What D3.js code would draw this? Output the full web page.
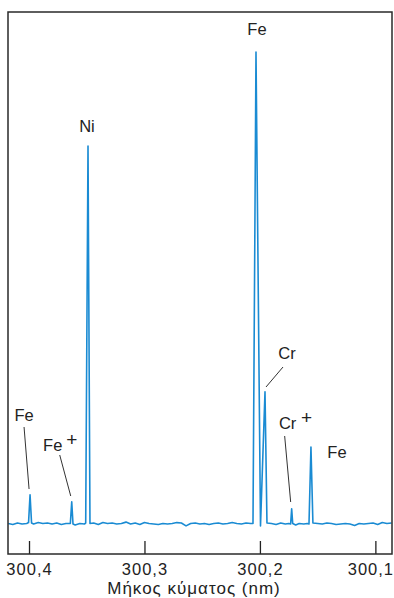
<!DOCTYPE html>
<html>
<head>
<meta charset="utf-8">
<script src="https://cdn.jsdelivr.net/npm/d3@7"></script>
<style>
  body { margin: 0; background: #fff; }
  svg { display: block; font-family: "Liberation Sans", Arial, sans-serif; }
  .tick text { font-size: 16.5px; fill: #222; letter-spacing: 1px; }
  .tick line { stroke: #222; stroke-width: 1.3; }
</style>
</head>
<body>
<svg id="chart" width="394" height="598"></svg>
<script>
// wavelength (nm), relative intensity (largest Fe line = 100)
const spectrum = [
  [300.418, 0.1], [300.414, -0.1], [300.410, 0.2], [300.406, 0.0], [300.402, 0.1],
  [300.4004, 0.3], [300.3991, 6.2], [300.3978, 0.2],
  [300.396, 0.0], [300.392, 0.3], [300.388, 0.1], [300.384, 0.2], [300.380, 0.0],
  [300.376, 0.2], [300.372, -0.1], [300.368, 0.1],
  [300.3642, 0.1], [300.3630, 4.7], [300.3619, 0.0],
  [300.360, -0.2], [300.356, 0.1], [300.352, 0.0],
  [300.3509, 0.2], [300.3489, 80.1], [300.3472, 0.1],
  [300.344, 0.2], [300.340, -0.1], [300.336, 0.3], [300.332, 0.1], [300.328, 0.2],
  [300.324, 0.0], [300.320, 0.1], [300.316, 0.4], [300.312, 0.0], [300.308, 0.2],
  [300.304, -0.1], [300.300, 0.3], [300.296, 0.1], [300.292, 0.0], [300.288, -0.1],
  [300.284, 0.1], [300.280, 0.0], [300.276, 0.1], [300.272, 0.3], [300.268, 0.2],
  [300.264, -0.4], [300.260, 0.1], [300.256, 0.2], [300.252, 0.0], [300.248, 0.1],
  [300.244, -0.1], [300.240, 0.1], [300.236, 0.2], [300.232, 0.0], [300.228, 0.1],
  [300.224, 0.3], [300.220, 0.1], [300.216, 0.0], [300.212, 0.2], [300.208, 0.1],
  [300.2060, 0.1], [300.2034, 100], [300.1995, -0.4], [300.1956, 28], [300.1939, 0.2],
  [300.190, 0.1], [300.186, -0.1], [300.182, 0.2], [300.178, 0.0], [300.175, 0.1],
  [300.1734, 0.0], [300.1725, 3.2], [300.1716, 0.1],
  [300.169, -0.2], [300.166, 0.1], [300.162, 0.0], [300.159, 0.1],
  [300.1575, 0.0], [300.1558, 16.3], [300.1541, 0.2],
  [300.150, 0.1], [300.146, 0.0], [300.142, 0.2], [300.138, 0.1], [300.134, -0.1],
  [300.130, 0.0], [300.126, 0.1], [300.122, 0.0], [300.118, -0.3], [300.114, 0.1],
  [300.110, 0.0], [300.106, 0.1], [300.102, 0.2], [300.098, -0.1], [300.094, 0.3],
  [300.090, 0.1], [300.086, 0.2]
];

const xTicks = [300.4, 300.3, 300.2, 300.1];
const xTitle = 'Μήκος κύματος (nm)';

// line labels: wavelength of the line, label text, superscript, and leader line
const lineLabels = [
  { wl: 300.2034, name: 'Fe', sup: '', dx: 1, y: 35, leader: null },
  { wl: 300.3489, name: 'Ni', sup: '', dx: -1, y: 132, leader: null },
  { wl: 300.3991, name: 'Fe', sup: '', dx: -6, y: 421, leader: [[-6, 427], [-1, 489]] },
  { wl: 300.3630, name: 'Fe', sup: '+', dx: -19, y: 451, leader: [[-12, 455], [-1, 496]] },
  { wl: 300.1956, name: 'Cr', sup: '', dx: 22, y: 359, leader: [[18, 367], [1, 387]] },
  { wl: 300.1725, name: 'Cr', sup: '+', dx: -4, y: 429, leader: [[-7, 436], [-1, 502]] },
  { wl: 300.1558, name: 'Fe', sup: '', dx: 26, y: 458, leader: null }
];

const frame = { left: 8, top: 12, right: 392, bottom: 554 };

const svg = d3.select('#chart');

const xScale = d3.scaleLinear()
  .domain([300.4182, 300.0856])
  .range([frame.left, frame.right]);

const yScale = d3.scaleLinear()
  .domain([0, 100])
  .range([524, 52]);

const commaFormat = d3.formatLocale({ decimal: ',', thousands: '.', grouping: [3], currency: ['', ''] }).format('.1f');

const xAxis = d3.axisBottom(xScale)
  .tickValues(xTicks)
  .tickFormat(commaFormat)
  .tickSizeInner(-13)
  .tickSizeOuter(0)
  .tickPadding(9);

const axisG = svg.append('g')
  .attr('transform', `translate(0,${frame.bottom})`)
  .call(xAxis);
axisG.select('.domain').remove();
axisG.selectAll('.tick text').attr('font-family', null).attr('font-size', null);
// last label sits against the right edge, as in the print
axisG.selectAll('.tick text').filter(d => d === 300.1).attr('dx', -5);

const line = d3.line()
  .x(d => xScale(d[0]))
  .y(d => yScale(d[1]));

svg.append('path')
  .datum(spectrum)
  .attr('d', line)
  .attr('fill', 'none')
  .attr('stroke', '#1a8bd3')
  .attr('stroke-width', 1.6)
  .attr('stroke-linejoin', 'round');

svg.append('rect')
  .attr('x', frame.left)
  .attr('y', frame.top)
  .attr('width', frame.right - frame.left)
  .attr('height', frame.bottom - frame.top)
  .attr('fill', 'none')
  .attr('stroke', '#2a2a2a')
  .attr('stroke-width', 1.5);

const labelG = svg.append('g').attr('fill', '#222').attr('font-size', 16.5);

lineLabels.forEach(l => {
  const x0 = xScale(l.wl);
  labelG.append('text')
    .attr('x', x0 + l.dx)
    .attr('y', l.y)
    .attr('text-anchor', 'middle')
    .text(l.name);
  if (l.sup) {
    labelG.append('text')
      .attr('x', x0 + l.dx + 19)
      .attr('y', l.y - 5)
      .attr('text-anchor', 'middle')
      .attr('font-size', 19)
      .text(l.sup);
  }
  if (l.leader) {
    labelG.append('line')
      .attr('x1', x0 + l.leader[0][0])
      .attr('y1', l.leader[0][1])
      .attr('x2', x0 + l.leader[1][0])
      .attr('y2', l.leader[1][1])
      .attr('stroke', '#333')
      .attr('stroke-width', 1);
  }
});

svg.append('text')
  .attr('x', 194)
  .attr('y', 594)
  .attr('text-anchor', 'middle')
  .attr('fill', '#222')
  .attr('font-size', 17)
  .attr('letter-spacing', 1)
  .text(xTitle);
</script>
</body>
</html>
